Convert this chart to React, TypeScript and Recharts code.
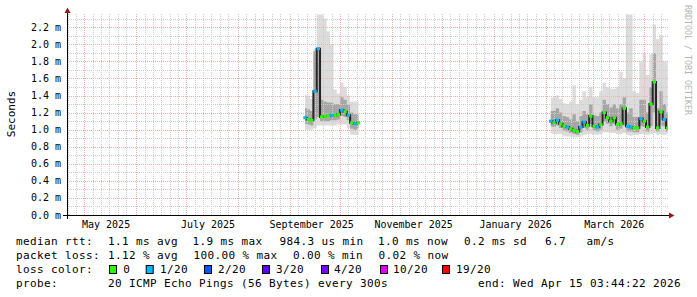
import React from 'react';
import { ComposedChart, Area, Line, Scatter, XAxis, YAxis, ReferenceLine } from 'recharts';

const MONO = '"DejaVu Sans Mono", monospace';
const DAY = 86400000;

// graph window (UTC)
const START = Date.UTC(2025, 3, 20, 15, 0, 0);
const END = Date.UTC(2026, 3, 15, 3, 44, 22);
const Y_TOP = 2.3676;

// first block of samples, one every 2 days from 2025-09-10 (values in ms)
const sepStart = Date.UTC(2025, 8, 10);
const sepMedian = [1.14, 1.12, 1.11, 1.45, 1.95, 1.15, 1.16, 1.16, 1.17, 1.17, 1.18, 1.23, 1.21, 1.17, 1.08, 1.07, 1.08];
const sepLoss = [1, 0, 0, 1, 1, 0, 0, 0, 1, 0, 0, 1, 0, 1, 0, 1, 0];
const sepMin = [1.0, 1.0, 1.0, 1.02, 1.05, 1.05, 1.05, 1.05, 1.05, 1.05, 1.06, 1.06, 1.06, 1.02, 0.94, 0.94, 0.94];
const sepLow = [1.07, 1.06, 1.05, 1.12, 1.15, 1.1, 1.1, 1.1, 1.11, 1.11, 1.12, 1.16, 1.15, 1.11, 1.01, 1.0, 1.01];
const sepHigh = [1.25, 1.24, 1.22, 1.92, 1.95, 1.35, 1.33, 1.32, 1.32, 1.3, 1.3, 1.38, 1.35, 1.3, 1.2, 1.18, 1.18];
const sepMax = [1.41, 1.4, 1.36, 1.95, 2.35, 2.35, 2.3, 2.15, 2.0, 1.47, 1.42, 1.55, 1.5, 1.4, 1.33, 1.33, 1.33];

// second block, one every 2 days from 2026-02-04
const febStart = Date.UTC(2026, 1, 4);
const febMedian = [1.1, 1.08, 1.11, 1.07, 1.04, 1.03, 1.01, 0.99, 0.98, 1.03, 1.09, 1.05, 1.16, 1.04, 1.03, 1.06, 1.2, 1.14,
  1.1, 1.14, 1.06, 1.07, 1.25, 1.04, 1.03, 1.02, 1.02, 1.13, 1.1, 1.03, 1.3, 1.56, 1.02, 1.21, 1.12, 1.02];
const febLoss = [1, 0, 1, 0, 0, 1, 0, 0, 0, 1, 1, 0, 0, 0, 1, 0, 0, 0, 0, 0, 0, 0, 0, 1, 1, 0, 0, 1, 0, 0, 0, 0, 0, 0, 1, 0];
const febMin = [0.96, 0.95, 0.95, 0.95, 0.93, 0.92, 0.92, 0.91, 0.91, 0.92, 0.94, 0.95, 0.95, 0.94, 0.94, 0.95, 0.97, 0.97,
  0.96, 0.96, 0.95, 0.95, 0.96, 0.94, 0.93, 0.94, 0.94, 0.95, 0.95, 0.94, 0.95, 0.96, 0.94, 0.95, 0.94, 0.95];
const febLow = [1.04, 1.03, 1.05, 1.02, 0.99, 0.98, 0.96, 0.95, 0.94, 0.97, 1.02, 1.0, 1.07, 0.99, 0.98, 1.0, 1.1, 1.07,
  1.04, 1.07, 1.0, 1.01, 1.05, 0.98, 0.98, 0.97, 0.97, 1.04, 1.03, 0.98, 1.04, 1.2, 0.98, 1.05, 1.04, 0.98];
const febHigh = [1.22, 1.22, 1.25, 1.2, 1.16, 1.15, 1.12, 1.18, 1.1, 1.16, 1.22, 1.18, 1.3, 1.17, 1.16, 1.2, 1.35, 1.3,
  1.26, 1.3, 1.25, 1.3, 1.38, 1.2, 1.25, 1.15, 1.15, 1.35, 1.35, 1.2, 1.5, 1.9, 1.25, 1.45, 1.3, 1.2];
const febMax = [1.37, 1.38, 1.4, 1.36, 1.31, 1.3, 1.33, 1.52, 1.3, 1.35, 1.45, 1.38, 1.5, 1.38, 1.38, 1.45, 1.55, 1.5,
  1.48, 1.48, 1.5, 1.68, 1.6, 2.35, 2.35, 1.45, 1.43, 1.8, 1.9, 1.64, 1.88, 2.23, 2.06, 2.11, 1.8, 1.8];

// axis labels and grid
const labelTicks = [Date.UTC(2025, 4, 14), Date.UTC(2025, 6, 14), Date.UTC(2025, 8, 14), Date.UTC(2025, 10, 14), Date.UTC(2026, 0, 14), Date.UTC(2026, 2, 14)];
const labelNames = ['May 2025', 'July 2025', 'September 2025', 'November 2025', 'January 2026', 'March 2026'];
const yTicks = [0, 0.2, 0.4, 0.6, 0.8, 1.0, 1.2, 1.4, 1.6, 1.8, 2.0, 2.2];
const yMinor = [0.1, 0.3, 0.5, 0.7, 0.9, 1.1, 1.3, 1.5, 1.7, 1.9, 2.1, 2.3];
const gridMonths: [number, number][] = [[2025, 3], [2025, 4], [2025, 5], [2025, 6], [2025, 7], [2025, 8], [2025, 9], [2025, 10], [2025, 11], [2026, 0], [2026, 1], [2026, 2], [2026, 3]];
const minorDays = [6, 11, 16, 21, 26];

const lossLabels = ['0', '1/20', '2/20', '3/20', '4/20', '10/20', '19/20'];
const lossColors = ['#26ff00', '#00b8ff', '#0059ff', '#5e00ff', '#7e00ff', '#dd00ff', '#ff0000'];

type Row = { t: number; median: number | null; loss: number | null; min: number | null; low: number | null; high: number | null; max: number | null };

function block(start: number, med: number[], loss: number[], mn: number[], lo: number[], hi: number[], mx: number[]): Row[] {
  return med.map((m, i) => ({ t: start + i * 2 * DAY, median: m, loss: loss[i], min: mn[i], low: lo[i], high: hi[i], max: mx[i] }));
}

const rows: Row[] = [
  ...block(sepStart, sepMedian, sepLoss, sepMin, sepLow, sepHigh, sepMax),
  { t: Date.UTC(2025, 11, 1), median: null, loss: null, min: null, low: null, high: null, max: null },
  ...block(febStart, febMedian, febLoss, febMin, febLow, febHigh, febMax),
];
const medianPts = rows.filter((r) => r.median != null);

const monthStarts = gridMonths.slice(1).map(([y, m]) => Date.UTC(y, m, 1));
const minorX = gridMonths.flatMap(([y, m]) => minorDays.map((d) => Date.UTC(y, m, d))).filter((t) => t > START && t < END);

const MedianBlock = (props: any) => {
  const { cx, cy, payload } = props;
  if (cx == null || cy == null) return null;
  return <rect x={cx - 1.7} y={cy - 1.5} width={3.4} height={3} fill={lossColors[payload.loss]} />;
};

// dotted grid line snapped to the pixel grid, like rrdtool draws it
const gridLine = (color: string) => (p: any) => {
  const x1 = p.x1 === p.x2 ? Math.round(p.x1) + 0.5 : p.x1;
  const x2 = p.x1 === p.x2 ? x1 : p.x2;
  const y1 = p.y1 === p.y2 ? Math.round(p.y1) + 0.5 : p.y1;
  const y2 = p.y1 === p.y2 ? y1 : p.y2;
  return <line x1={x1} y1={y1} x2={x2} y2={y2} stroke={color} strokeWidth={1} strokeDasharray="1 1" />;
};
const minorGrid = gridLine('#cccccc');
const majorGrid = gridLine('#f0b0b0');

const legendRows: [number, [number, string][]][] = [
  [245.3, [[16, 'median rtt:'], [108, '1.1 ms avg'], [192.5, '1.9 ms max'], [279.5, '984.3 us min'], [378, '1.0 ms now'], [464, '0.2 ms sd'], [545, '6.7'], [586.5, 'am/s']]],
  [259.3, [[16, 'packet loss:'], [108, '1.12 % avg'], [193.5, '100.00 % max'], [293, '0.00 % min'], [378.5, '0.02 % now']]],
  [273.3, [[16, 'loss color:']]],
  [287.3, [[16, 'probe:'], [108, '20 ICMP Echo Pings (56 Bytes) every 300s'], [478, 'end: Wed Apr 15 03:44:22 2026']]],
];
const boxX = [109, 145.7, 204, 262, 321, 380, 442];
const boxLabelX = [123.3, 160, 218, 276, 334, 393, 456];

export default function App() {
  const tickStyle = { fontSize: 10, fill: '#000', fontFamily: MONO };
  return (
    <div style={{ position: 'absolute', left: 0, top: 0, width: 697, height: 297, background: '#fff' }}>
      <ComposedChart width={697} height={297} data={rows} margin={{ top: 13, right: 29, bottom: 62, left: 7 }}>
        <XAxis
          dataKey="t"
          type="number"
          domain={[START, END]}
          allowDataOverflow
          ticks={labelTicks}
          interval={0}
          tickFormatter={(v: number, i: number) => labelNames[i]}
          height={20}
          axisLine={false}
          tickLine={false}
          tickSize={0}
          tickMargin={6}
          tick={tickStyle}
        />
        <YAxis
          type="number"
          domain={[0, Y_TOP]}
          allowDataOverflow
          ticks={yTicks}
          interval={0}
          tickFormatter={(v: number) => v.toFixed(1) + ' m'}
          width={60}
          axisLine={false}
          tickLine={false}
          tickSize={0}
          tickMargin={6}
          tick={tickStyle}
        />
        <Area
          dataKey={(d: Row) => (d.max == null ? null : [d.min, d.max])}
          type="step"
          fill="#dcdcdc"
          fillOpacity={1}
          stroke="none"
          isAnimationActive={false}
          dot={false}
          activeDot={false}
        />
        <Area
          dataKey={(d: Row) => (d.high == null ? null : [d.low, d.high])}
          type="step"
          fill="#a6a6a6"
          fillOpacity={1}
          stroke="none"
          isAnimationActive={false}
          dot={false}
          activeDot={false}
        />
        {yMinor.map((v) => (
          <ReferenceLine key={'ym' + v} y={v} stroke="#cccccc" shape={minorGrid} />
        ))}
        {minorX.map((t) => (
          <ReferenceLine key={'xm' + t} x={t} stroke="#cccccc" shape={minorGrid} />
        ))}
        {yTicks.slice(1).map((v) => (
          <ReferenceLine key={'yM' + v} y={v} stroke="#f0b0b0" shape={majorGrid} />
        ))}
        {monthStarts.map((t) => (
          <ReferenceLine key={'xM' + t} x={t} stroke="#f0b0b0" shape={majorGrid} />
        ))}
        <Line
          dataKey="median"
          type="step"
          stroke="#262626"
          strokeWidth={2}
          dot={false}
          activeDot={false}
          isAnimationActive={false}
        />
        <Scatter data={medianPts} dataKey="median" shape={MedianBlock} isAnimationActive={false} />
      </ComposedChart>

      <svg width={697} height={297} style={{ position: 'absolute', left: 0, top: 0, pointerEvents: 'none' }}>
        <line x1={67.5} y1={219} x2={67.5} y2={12} stroke="#000" strokeWidth={1} />
        <polygon points="64.5,13 70.5,13 67.5,7.5" fill="#8c1c1c" />
        <line x1={63} y1={215.5} x2={670} y2={215.5} stroke="#000" strokeWidth={1} />
        <polygon points="669,212.5 669,218.5 674.5,215.5" fill="#8c1c1c" />
        <text x={15} y={114} transform="rotate(-90 15 114)" textAnchor="middle" fontFamily={MONO} fontSize={11} fill="#000">
          Seconds
        </text>
        <text x={685} y={5} transform="rotate(90 685 5)" fontFamily={MONO} fontSize={8.3} fill="#b4b4b4">
          RRDTOOL / TOBI OETIKER
        </text>
        {legendRows.map(([y, segs]) =>
          segs.map(([x, s]) => (
            <text key={y + '-' + x} x={x} y={y} fontFamily={MONO} fontSize={11} letterSpacing={0.38} fill="#000" style={{ whiteSpace: 'pre' }}>
              {s}
            </text>
          ))
        )}
        {lossLabels.map((lab, i) => (
          <g key={lab}>
            <rect x={boxX[i] + 0.5} y={265.5} width={7} height={8} fill={lossColors[i]} stroke="#000" strokeWidth={1} />
            <text x={boxLabelX[i]} y={273.3} fontFamily={MONO} fontSize={11} letterSpacing={0.38} fill="#000">
              {lab}
            </text>
          </g>
        ))}
      </svg>
    </div>
  );
}
